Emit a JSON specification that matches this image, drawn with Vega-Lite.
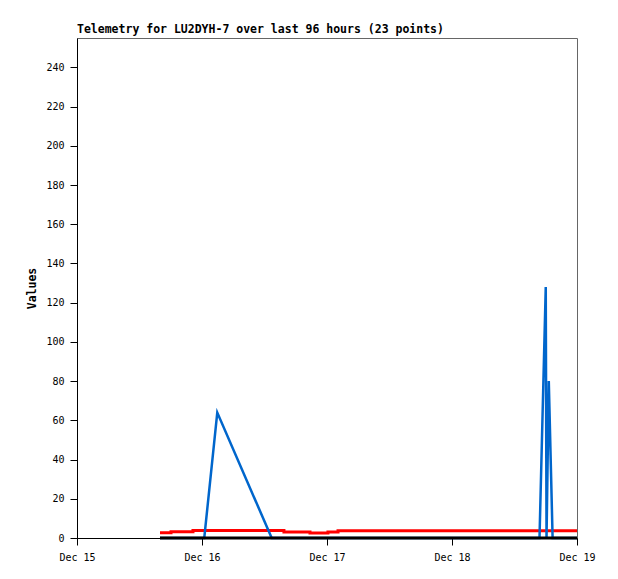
{
  "$schema": "https://vega.github.io/schema/vega-lite/v6.json",
  "width": 500,
  "height": 500,
  "autosize": "none",
  "padding": {"left": 77, "top": 38, "right": 41, "bottom": 41},
  "background": "white",
  "title": {
    "text": "Telemetry for LU2DYH-7 over last 96 hours (23 points)",
    "anchor": "start",
    "frame": "group",
    "font": "DejaVu Sans Mono",
    "fontSize": 11.5,
    "fontWeight": "bold",
    "color": "black",
    "offset": 3
  },
  "config": {
    "view": {"stroke": "#666666", "strokeWidth": 1},
    "axis": {
      "grid": false,
      "domainColor": "black",
      "tickColor": "black",
      "labelColor": "black",
      "labelFont": "DejaVu Sans Mono",
      "labelFontSize": 10,
      "titleFont": "DejaVu Sans Mono",
      "titleFontSize": 11.5,
      "titleFontWeight": "bold",
      "titleColor": "black",
      "tickSize": 7
    }
  },
  "datasets": {
    "telemetry": [
      {"t": "2024-12-15T15:56:00Z", "series": "red", "v": 2.7},
      {"t": "2024-12-15T18:03:00Z", "series": "red", "v": 3.2},
      {"t": "2024-12-15T22:16:00Z", "series": "red", "v": 3.8},
      {"t": "2024-12-16T15:44:00Z", "series": "red", "v": 3.1},
      {"t": "2024-12-16T20:44:00Z", "series": "red", "v": 2.5},
      {"t": "2024-12-17T00:11:00Z", "series": "red", "v": 3.0},
      {"t": "2024-12-17T02:07:00Z", "series": "red", "v": 3.7},
      {"t": "2024-12-19T00:00:00Z", "series": "red", "v": 3.7},
      {"t": "2024-12-15T15:56:00Z", "series": "blue", "v": 0},
      {"t": "2024-12-16T00:26:00Z", "series": "blue", "v": 0},
      {"t": "2024-12-16T02:56:00Z", "series": "blue", "v": 64},
      {"t": "2024-12-16T13:23:00Z", "series": "blue", "v": 0},
      {"t": "2024-12-18T16:48:00Z", "series": "blue", "v": 0},
      {"t": "2024-12-18T18:00:00Z", "series": "blue", "v": 128},
      {"t": "2024-12-18T18:09:00Z", "series": "blue", "v": 0},
      {"t": "2024-12-18T18:35:00Z", "series": "blue", "v": 80},
      {"t": "2024-12-18T19:19:00Z", "series": "blue", "v": 0},
      {"t": "2024-12-19T00:00:00Z", "series": "blue", "v": 0},
      {"t": "2024-12-15T15:56:00Z", "series": "black", "v": 0},
      {"t": "2024-12-19T00:00:00Z", "series": "black", "v": 0}
    ]
  },
  "data": {"name": "telemetry"},
  "encoding": {
    "x": {
      "field": "t",
      "type": "temporal",
      "scale": {"type": "utc", "domain": [1734220800000, 1734566400000]},
      "axis": {
        "title": null,
        "values": [1734220800000, 1734307200000, 1734393600000, 1734480000000, 1734566400000],
        "labelExpr": "utcFormat(datum.value, '%b %d')",
        "labelPadding": 7,
        "labelFlush": false
      }
    },
    "y": {
      "field": "v",
      "type": "quantitative",
      "scale": {"domain": [0, 255], "nice": false, "zero": true},
      "axis": {
        "title": "Values",
        "values": [0, 20, 40, 60, 80, 100, 120, 140, 160, 180, 200, 220, 240],
        "labelPadding": 6,
        "titlePadding": 8
      }
    }
  },
  "layer": [
    {
      "transform": [{"filter": "datum.series === 'red'"}],
      "mark": {"type": "line", "color": "#ff0000", "strokeWidth": 3, "interpolate": "step-after"}
    },
    {
      "transform": [{"filter": "datum.series === 'blue'"}],
      "mark": {"type": "line", "color": "#0066cc", "strokeWidth": 2.5}
    },
    {
      "transform": [{"filter": "datum.series === 'black'"}],
      "mark": {"type": "line", "color": "black", "strokeWidth": 3}
    }
  ]
}
